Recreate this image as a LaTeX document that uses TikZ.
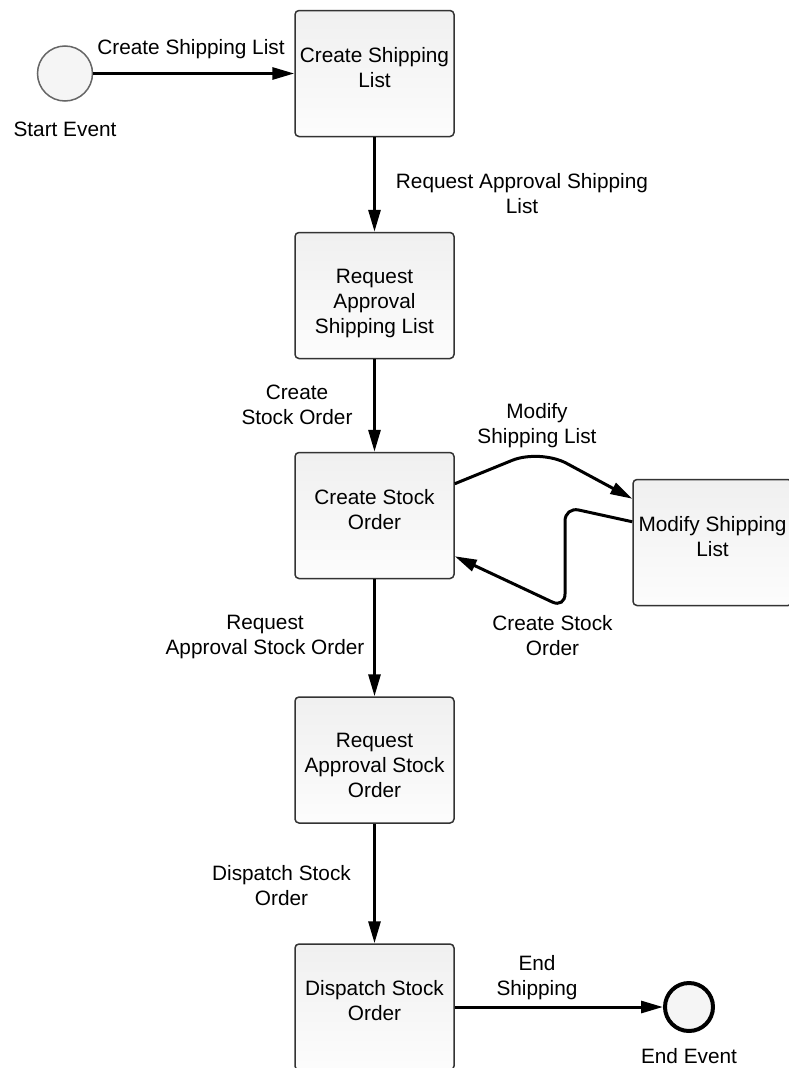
\documentclass[tikz,border=0pt]{standalone}
\usepackage{fontspec}
\setmainfont{Liberation Sans}
\usetikzlibrary{arrows.meta}

\begin{document}
\begin{tikzpicture}[x=1pt,y=-1pt,>={Triangle[length=22pt,width=12pt]},
  font=\fontsize{20.8}{25}\selectfont,
  task/.style={draw=black!80,line width=1.5pt,rounded corners=4pt,top color=black!6,bottom color=black!1,
    minimum width=159pt,minimum height=126pt,inner sep=0pt},
  tasktext/.style={anchor=north,align=center,inner sep=0pt,yshift=-37pt},
  event/.style={circle,fill=black!4,inner sep=0pt},
  flow/.style={->,line width=3pt},
  flowtext/.style={anchor=north,align=center,inner sep=0pt}]
\useasboundingbox (0,0) rectangle (788,1068);

% Start and end events
\node[event,draw=black!60,line width=1.5pt,minimum size=55pt,
  label={[flowtext,name=start-t,yshift=-20pt]below:Start Event}] (start) at (65,73.5) {};
\node[event,draw=black,line width=4pt,minimum size=48pt,
  label={[flowtext,name=end-t,yshift=-15pt]below:End Event}] (end) at (689,1007) {};

% The tasks
\node[task,label={[tasktext,name=ship-t]north:{Create Shipping\\List}}] (ship) at (374.5,73.5) {};
\node[task,label={[tasktext,name=approveship-t]north:{Request\\Approval\\Shipping List}}] (approveship) at (374.5,295.5) {};
\node[task,label={[tasktext,name=stock-t]north:{Create Stock\\Order}}] (stock) at (374.5,515.5) {};
\node[task,label={[tasktext,name=modify-t]north:{Modify Shipping\\List}}] (modify) at (712.5,542.5) {};
\node[task,label={[tasktext,name=approvestock-t]north:{Request\\Approval Stock\\Order}}] (approvestock) at (374.5,760) {};
\node[task,label={[tasktext,name=dispatch-t]north:{Dispatch Stock\\Order}}] (dispatch) at (374.5,1007) {};

% Sequence flows
\draw[flow] (start) -- (ship);
\draw[flow] (ship) -- (approveship);
\draw[flow] (approveship) -- (stock);
\draw[flow] (stock) -- (approvestock);
\draw[flow] (approvestock) -- (dispatch);
\draw[flow] (dispatch) -- (end);
% the loop to and from the modify task
\draw[flow,rounded corners=30pt] ([yshift=-32pt]stock.north east) -- (540,449) -- ([yshift=-20pt]modify.north west);
\draw[flow,rounded corners=14pt] ([yshift=-43pt]modify.north west) -- (565,507) -- (565,608) -- ([yshift=23pt]stock.south east);

% Flow labels
\node[flowtext] (ship-l) at (191,39) {Create Shipping List};
\node[flowtext] (approveship-l) at (522,173) {Request Approval Shipping\\List};
\node[flowtext] (stock-l) at (297,385) {Create\\Stock Order};
\node[flowtext] (modify-l) at (537,403) {Modify\\Shipping List};
\node[flowtext] (restock-l) at (552.5,615) {Create Stock\\Order};
\node[flowtext] (approvestock-l) at (265,615) {Request\\Approval Stock Order};
\node[flowtext] (dispatch-l) at (281.5,865) {Dispatch Stock\\Order};
\node[flowtext] (end-l) at (537,955) {End\\Shipping};

\end{tikzpicture}
\end{document}
